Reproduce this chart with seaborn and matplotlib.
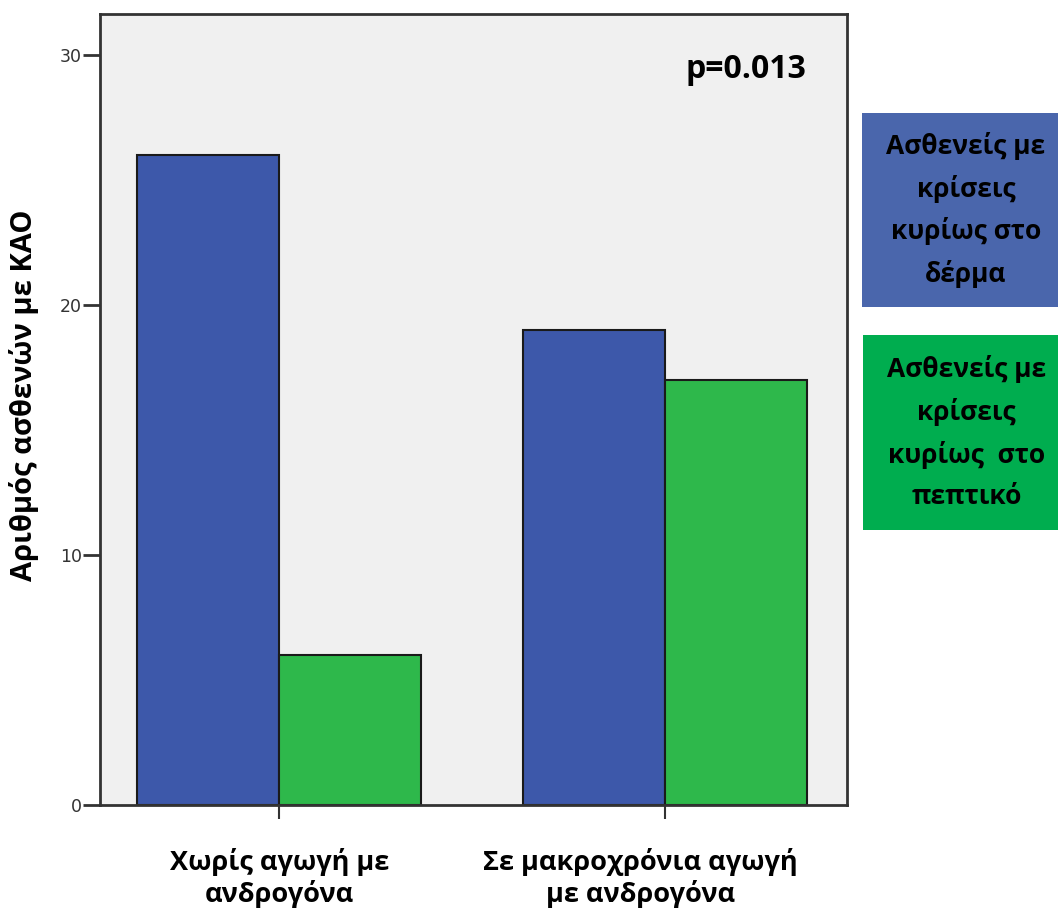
import matplotlib
matplotlib.use("Agg")
import matplotlib.pyplot as plt
import matplotlib.transforms as mtransforms
from matplotlib.patches import Rectangle
import pandas as pd
import seaborn as sns

groups = ["Χωρίς αγωγή με\nανδρογόνα", "Σε μακροχρόνια αγωγή\nμε ανδρογόνα"]
series = ["Ασθενείς με\nκρίσεις\nκυρίως στο\nδέρμα", "Ασθενείς με\nκρίσεις\nκυρίως  στο\nπεπτικό"]
skin = [26, 19]
gut = [6, 17]
y_ticks = [0, 10, 20, 30]
y_label = "Αριθμός ασθενών με ΚΑΟ"
p_text = "p=0.013"

bar_colors = ["#3d58aa", "#2eb84b"]
box_colors = ["#4a66ac", "#00ad4f"]

df = pd.DataFrame({
    "group": groups * 2,
    "series": [series[0]] * 2 + [series[1]] * 2,
    "count": skin + gut,
})

sns.set_style("white")
plt.rcParams["font.family"] = ["Open Sans", "DejaVu Sans"]

fig = plt.figure(figsize=(10.59, 9.08), dpi=100)
ax = fig.add_axes([100 / 1059, 103 / 908, 747 / 1059, 791 / 908])
ax.set_facecolor("#f0f0f0")

sns.barplot(data=df, x="group", y="count", hue="series", palette=bar_colors,
            width=0.736, edgecolor="#1a1a1a", linewidth=1.5, legend=False,
            saturation=1, ax=ax)

ax.set_xlim(-0.464, 1.471)
ax.set_ylim(0, 31.64)
ax.set_yticks(y_ticks)
ax.set_yticklabels([str(t) for t in y_ticks], fontsize=12.5, color="#333333",
                   family="DejaVu Sans")
ax.tick_params(axis="y", length=12, width=2, color="#333333", pad=1, left=True)
ax.tick_params(axis="x", length=10, width=1.5, color="#333333", pad=21, bottom=True)
for lab in ax.get_xticklabels():
    lab.set_fontsize(19.5)
    lab.set_fontweight("bold")
    lab.set_color("black")
# second label sits a bit left of its tick
lab2 = ax.get_xticklabels()[1]
lab2.set_transform(lab2.get_transform() + mtransforms.ScaledTranslation(-0.25, 0, fig.dpi_scale_trans))

ax.set_xlabel("")
ax.set_ylabel(y_label, fontsize=21, fontweight="bold", color="black")
ax.yaxis.set_label_coords(-0.082, 0.518)

for s in ax.spines.values():
    s.set_visible(True)
    s.set_color("#333333")
    s.set_linewidth(2)

# p-value, placed in pixels (measured from the top of the image)
fig.text(806 / 1059, (908 - 70) / 908, p_text, fontsize=23, fontweight="bold",
         ha="right", va="center", color="black")

boxes = [(862, 113, 196, 194), (863, 335, 195, 195)]
for (bx, by, bw, bh), col, lab in zip(boxes, box_colors, series):
    fig.patches.append(Rectangle((bx / 1059, (908 - by - bh) / 908), bw / 1059, bh / 908,
                                 transform=fig.transFigure, facecolor=col,
                                 edgecolor="none"))
    fig.text((bx + bw / 2 + 6) / 1059, (908 - by - bh / 2) / 908, lab, ha="center",
             va="center", fontsize=19, fontweight="bold", linespacing=1.68,
             color="black")

fig.savefig("out.png", dpi=100)
